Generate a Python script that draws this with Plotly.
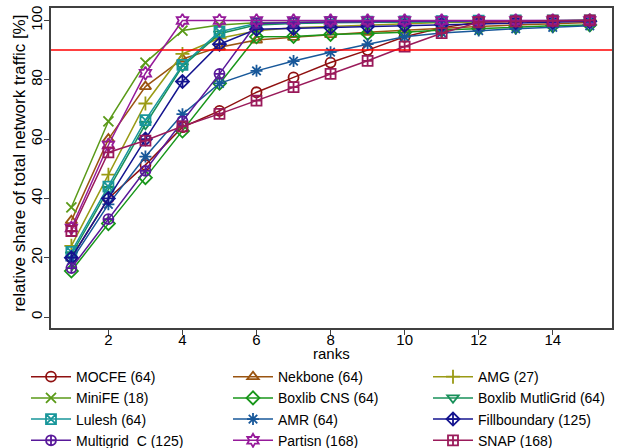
import plotly.graph_objects as go

ranks = list(range(1, 16))

names = ["MOCFE (64)", "Nekbone (64)", "AMG (27)",
         "MiniFE (18)", "Boxlib CNS (64)", "Boxlib MutliGrid (64)",
         "Lulesh (64)", "AMR (64)", "Fillboundary (125)",
         "Multigrid_C (125)", "Partisn (168)", "SNAP (168)"]

mocfe = [20, 40, 51.3, 64, 69.5, 75.8, 80.8, 85.8, 90, 94.5, 97.5, 99.5, 99.7, 99.8, 100]
nekbone = [32.5, 60, 77.7, 87, 91, 93.4, 94.3, 95.2, 96, 96.7, 97.4, 98, 98.5, 99, 99.3]
amg = [24, 48, 72, 88.7, 94, 96.5, 97.5, 98, 98.5, 99, 99.3, 99.5, 99.7, 99.8, 100]
minife = [37, 66, 85.8, 96.6, 98.5, 99.2, 99.4, 99.5, 99.6, 99.7, 99.8, 99.9, 100, 100, 100]
boxlib_cns = [15.5, 31.5, 47, 62.7, 78.8, 94.5, 94.6, 95.3, 95.6, 96, 96.8, 97.3, 97.8, 98.2, 98.5]
boxlib_mg = [21, 43, 65, 84.5, 95.5, 98.5, 99, 99.2, 99.4, 99.5, 99.6, 99.7, 99.8, 99.9, 100]
lulesh = [22, 44, 66.4, 85, 96.2, 99, 99.3, 99.5, 99.6, 99.7, 99.8, 99.9, 100, 100, 100]
amr = [19, 38, 54.1, 68.4, 78.8, 83, 86.3, 89.3, 92, 94.5, 95.8, 96.6, 97.2, 97.7, 98.2]
fillboundary = [20, 40, 60, 79.4, 92, 97, 97.3, 97.6, 98, 98.3, 98.6, 99, 99.3, 99.5, 99.7]
multigrid_c = [16.5, 33, 49.3, 66, 82, 99, 99.3, 99.5, 99.6, 99.7, 99.8, 99.9, 100, 100, 100]
partisn = [30, 58, 82.2, 100, 100, 100, 100, 100, 100, 100, 100, 100, 100, 100, 100]
snap = [29, 55.5, 59.5, 64.3, 68.5, 73, 77.5, 82, 86.4, 91.2, 95.7, 99.4, 99.7, 99.9, 100]

series = [mocfe, nekbone, amg, minife, boxlib_cns, boxlib_mg,
          lulesh, amr, fillboundary, multigrid_c, partisn, snap]

colors = ["#8f1010", "#9a5410", "#9a9a14", "#5a9a18", "#18961a", "#18905a",
          "#18969a", "#18589a", "#14148f", "#58189a", "#961a9a", "#9a1a5a"]

symbols = ["circle-open", "triangle-up-open", "cross-thin-open", "x-thin-open",
           "diamond-open", "triangle-down-open", "square-x-open", "asterisk-open",
           "diamond-cross-open", "circle-cross-open", "hexagram-open", "square-cross-open"]

font = "Liberation Sans, Arial, sans-serif"

# three legend columns below the plot (left edges in px)
col_x = [26, 228, 428]
legend_keys = ["legend", "legend2", "legend3"]

fig = go.Figure()
for i, (name, vals, col, sym) in enumerate(zip(names, series, colors, symbols)):
    fig.add_trace(go.Scatter(
        x=ranks, y=vals, name=name, mode="lines+markers",
        line=dict(color=col, width=1.5),
        marker=dict(symbol=sym, size=10, color=col, line=dict(color=col, width=1.8)),
        legend=legend_keys[i % 3],
    ))

legends = {}
for key, cx in zip(legend_keys, col_x):
    # wide entries force one entry per row, giving a single column
    legends[key] = dict(
        orientation="h", xref="container", yref="container",
        x=cx / 639, y=0.194, xanchor="left", yanchor="top",
        entrywidth=240, itemwidth=40, font=dict(size=14, family=font),
        bgcolor="rgba(0,0,0,0)",
    )

# 90 % reference line
fig.add_shape(type="line", xref="paper", x0=0, x1=1, yref="y", y0=90, y1=90,
              line=dict(color="red", width=1.5))

# axis titles
fig.add_annotation(text="ranks", xref="paper", yref="paper", x=0.5, y=-0.081,
                   xanchor="center", yanchor="middle", showarrow=False,
                   font=dict(size=15, family=font))
fig.add_annotation(text="relative share of total network traffic [%]",
                   xref="paper", yref="paper", x=-0.0553, y=0.516, textangle=-90,
                   xanchor="center", yanchor="middle", showarrow=False,
                   font=dict(size=17, family=font))

fig.update_layout(
    width=639, height=448,
    margin=dict(l=51, r=27, t=8, b=120),
    paper_bgcolor="white", plot_bgcolor="white",
    font=dict(family=font, size=15, color="black"),
    showlegend=True,
    xaxis=dict(range=[0.45, 15.6], tickvals=[2, 4, 6, 8, 10, 12, 14],
               showgrid=False, zeroline=False, showline=True, linecolor="#404040",
               linewidth=1.5, mirror=True, ticks="outside", ticklen=5,
               tickcolor="#404040", automargin=False, ticklabelstandoff=-8),
    yaxis=dict(range=[-3.7, 104.2], tickvals=[0, 20, 40, 60, 80, 100], tickangle=-90,
               showgrid=False, zeroline=False, showline=True, linecolor="#404040",
               linewidth=1.5, mirror=True, ticks="outside", ticklen=5,
               tickcolor="#404040", automargin=False, ticklabelstandoff=-4),
)
fig.update_layout(**legends)

fig.write_html("out.html")
